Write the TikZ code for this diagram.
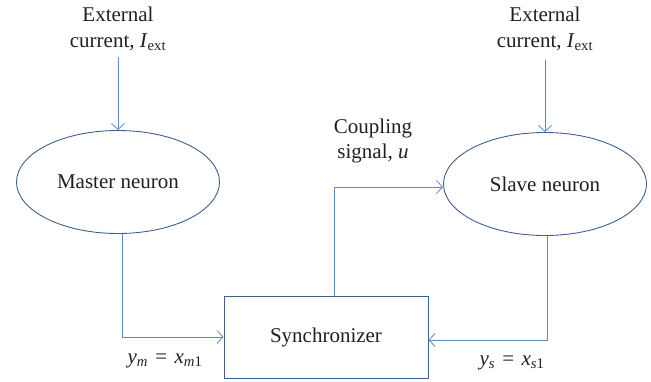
\documentclass[tikz,border=0pt]{standalone}
\usepackage{fontspec}
\setmainfont{Liberation Serif}
\usetikzlibrary{shapes.geometric,arrows.meta,calc}
\definecolor{lineblue}{HTML}{5F88C4}
\definecolor{shapeblue}{HTML}{3F5F8F}
\definecolor{txt}{HTML}{231F20}
\newcommand{\myeq}{\hspace{0.35em}=\hspace{0.35em}}
\begin{document}
\begin{tikzpicture}[x=1pt,y=-1pt,
  font=\fontsize{21}{25}\selectfont, text=txt,
  blob/.style={ellipse, draw=shapeblue, line width=0.9pt, minimum width=203pt, minimum height=103pt, inner sep=0pt},
  boxx/.style={rectangle, draw=shapeblue, line width=0.9pt, minimum width=204pt, minimum height=82pt, inner sep=0pt},
  conn/.style={draw=lineblue, line width=0.8pt, -{Straight Barb[length=6pt,width=13pt]}},
  lbl/.style={align=center, inner sep=0pt}]
\useasboundingbox (0,0) rectangle (651,381);
\node[blob] (m) at (118,182) {Master neuron};
\node[blob] (sl) at (545,184) {Slave neuron};
\node[boxx] (sync) at (326,337) {Synchronizer};
\node[lbl] (ml1) at (118,14) {External};
\node[lbl] (ml2) at (118,42) {current, \textit{I}\textsubscript{ext}};
\node[lbl] (sl1) at (545,14) {External};
\node[lbl] (sl2) at (545,42) {current, \textit{I}\textsubscript{ext}};
\node[lbl] (c1) at (373,128) {Coupling};
\node[lbl] (c2) at (373,153) {signal, \textit{u}};
\node[lbl] (ym) at (165,361) {\textit{y}\textsubscript{\textit{m}}\myeq\textit{x}\textsubscript{\textit{m}1}};
\node[lbl] (ys) at (512,363) {\textit{y}\textsubscript{\textit{s}}\myeq\textit{x}\textsubscript{\textit{s}1}};
\coordinate (mtop) at (118,57);
\coordinate (stop) at (545,60);
\draw[conn] (mtop) -- (m.north);
\draw[conn] (stop) -- (sl.north);
\draw[conn] ([xshift=4pt]m.south) |- (sync.west);
\draw[conn] ([xshift=2pt]sl.south) |- ([yshift=-3pt]sync.east);
\draw[conn] ([xshift=8pt]sync.north) |- ([yshift=-3pt]sl.west);
\end{tikzpicture}
\end{document}
